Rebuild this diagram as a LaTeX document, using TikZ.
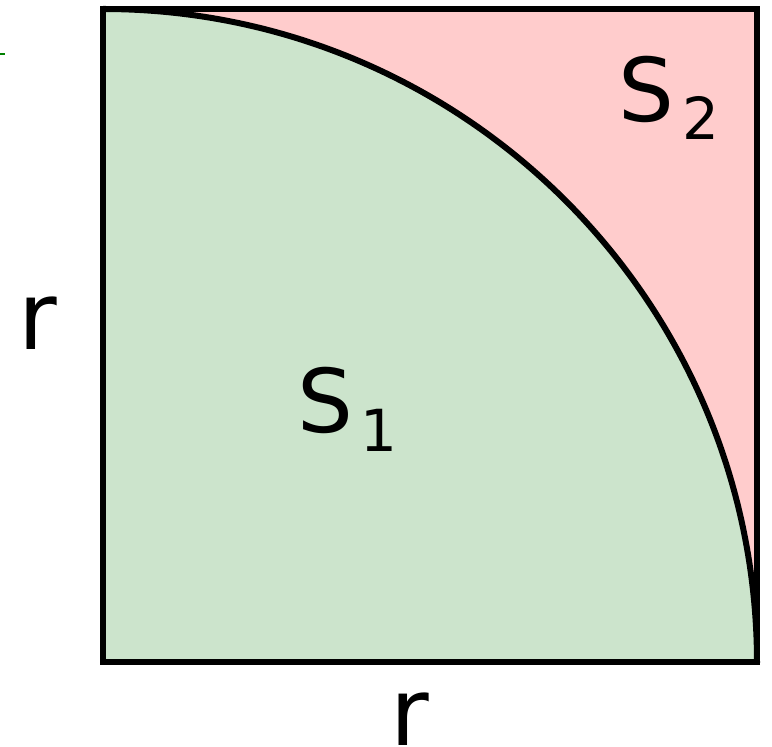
\documentclass[tikz,border=0pt]{standalone}
\usepackage{fontspec}
\setmainfont{DejaVu Sans}
\definecolor{fillgreen}{RGB}{204,228,204}
\definecolor{fillpink}{RGB}{255,204,204}
\definecolor{tickgreen}{RGB}{0,128,0}
\begin{document}
\begin{tikzpicture}[x=1pt,y=1pt,
  lbl/.style={inner sep=0pt,outer sep=0pt,anchor=base west,font=\fontsize{88}{88}\selectfont},
  rlbl/.style={inner sep=0pt,outer sep=0pt,anchor=base west,font=\fontsize{94}{94}\selectfont},
  border/.style={line width=6pt,black}]
\useasboundingbox (0,0) rectangle (772,747);
\coordinate (bl) at (103,85);
\coordinate (tl) at (103,738);
\coordinate (tr) at (757,738);
\coordinate (br) at (757,85);
\fill[fillpink] (bl) rectangle (tr);
\fill[fillgreen] (bl) -- (tl) arc[start angle=90,end angle=0,radius=654] -- cycle;
\draw[border] (tl) arc[start angle=90,end angle=0,radius=654];
\draw[border,line join=miter] (bl) rectangle (tr);
\draw[tickgreen,line width=2.5pt] (0,693) -- (5,693);
\node[lbl] (s2) at (618,625) {S\hspace{9pt}\raisebox{-18pt}{\fontsize{58}{58}\selectfont 2}};
\node[lbl] (s1) at (297,314) {S\hspace{8pt}\raisebox{-19pt}{\fontsize{58}{58}\selectfont 1}};
\node[rlbl] (rl) at (19,397) {r};
\node[rlbl] (rb) at (390,1) {r};
\end{tikzpicture}
\end{document}
